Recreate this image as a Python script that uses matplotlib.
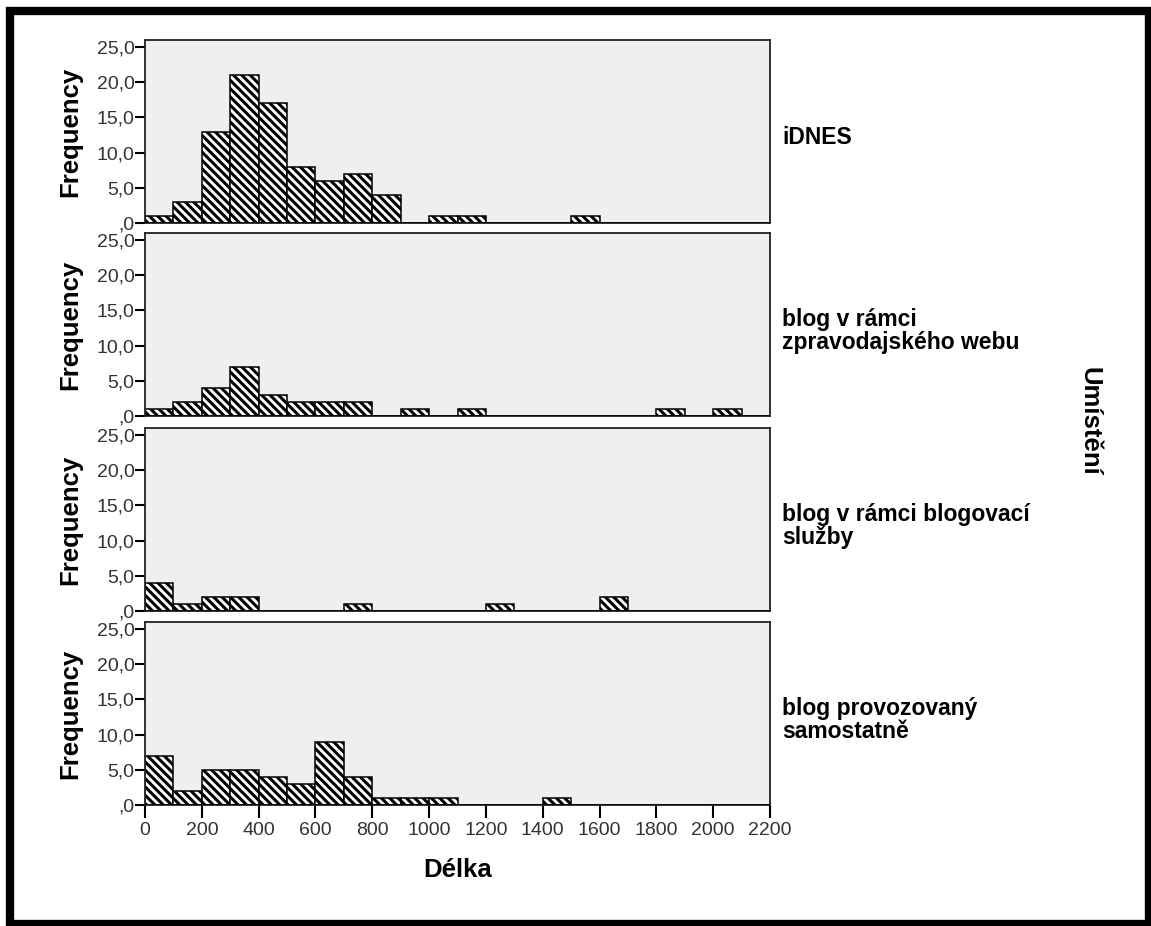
import numpy as np
import matplotlib.pyplot as plt
from matplotlib.patches import Rectangle
from matplotlib.ticker import FuncFormatter

plt.rcParams['font.family'] = ['Liberation Sans', 'DejaVu Sans']
plt.rcParams['hatch.linewidth'] = 2.2

# histogram bins (left edges), bin width 100
bin_edges = np.arange(0, 2200, 100)
bin_width = 100

groups = ['iDNES',
          'blog v rámci\nzpravodajského webu',
          'blog v rámci blogovací\nslužby',
          'blog provozovaný\nsamostatně']

# counts per bin 0-100, 100-200, ... 2100-2200
idnes = [1, 3, 13, 21, 17, 8, 6, 7, 4, 0, 1, 1, 0, 0, 0, 1, 0, 0, 0, 0, 0, 0]
blog_zprav = [1, 2, 4, 7, 3, 2, 2, 2, 0, 1, 0, 1, 0, 0, 0, 0, 0, 0, 1, 0, 1, 0]
blog_sluzba = [4, 1, 2, 2, 0, 0, 0, 1, 0, 0, 0, 0, 1, 0, 0, 0, 2, 0, 0, 0, 0, 0]
blog_sam = [7, 2, 5, 5, 4, 3, 9, 4, 1, 1, 1, 0, 0, 0, 1, 0, 0, 0, 0, 0, 0, 0]
counts = [idnes, blog_zprav, blog_sluzba, blog_sam]

y_ticks = [0, 5, 10, 15, 20, 25]
x_ticks = np.arange(0, 2201, 200)


def spss_fmt(v, pos):
    # SPSS style: decimal comma, no leading zero
    s = '%.1f' % v
    s = s.replace('.', ',')
    if s.startswith('0,'):
        s = s[1:]
    return s


W, H = 1151, 926
fig = plt.figure(figsize=(W / 100, H / 100), dpi=100)

# outer frame
fig.patches.append(Rectangle((10 / W, 1 - 924 / H), 1139 / W, 913 / H,
                             transform=fig.transFigure, fill=False,
                             edgecolor='black', linewidth=6))

panel_tops = [40, 233, 428, 622]
panel_h = 183
left, width = 145, 625

for i, (top, vals, name) in enumerate(zip(panel_tops, counts, groups)):
    ax = fig.add_axes([left / W, 1 - (top + panel_h) / H, width / W, panel_h / H])
    ax.set_facecolor('#efefef')
    vals = np.array(vals)
    nz = vals > 0
    ax.bar(bin_edges[nz], vals[nz], width=bin_width, align='edge',
           color='white', edgecolor='black', hatch='\\\\\\\\', linewidth=1.1)
    ax.set_xlim(0, 2200)
    ax.set_ylim(0, 26)
    ax.set_yticks(y_ticks)
    ax.yaxis.set_major_formatter(FuncFormatter(spss_fmt))
    ax.tick_params(axis='y', direction='out', length=7, width=1.5,
                   labelsize=14, colors='black', labelcolor='#333333', pad=0.5)
    ax.axhline(0, color='black', linewidth=1.8, zorder=5)
    for sp in ax.spines.values():
        sp.set_linewidth(1.3)
        sp.set_color('#222222')
    ax.set_ylabel('Frequency', fontsize=18.5, fontweight='bold')
    ax.yaxis.set_label_coords(-0.101, 0.5)
    ax.text(1.02, 0.465, name, transform=ax.transAxes, ha='left', va='center',
            fontsize=16.5, fontweight='bold', linespacing=1.0)
    if i < 3:
        ax.set_xticks([])
    else:
        ax.set_xticks(x_ticks)
        ax.tick_params(axis='x', direction='out', length=9, width=1.5,
                       labelsize=14, labelcolor='#333333', pad=3)
        ax.set_xlabel('Délka', fontsize=18.5, fontweight='bold')
        ax.xaxis.set_label_coords(0.5, -0.29)

fig.text(1089 / W, 1 - 421 / H, 'Umístění', rotation=-90, ha='center', va='center',
         fontsize=18.5, fontweight='bold')

fig.savefig('out.png', dpi=100)
